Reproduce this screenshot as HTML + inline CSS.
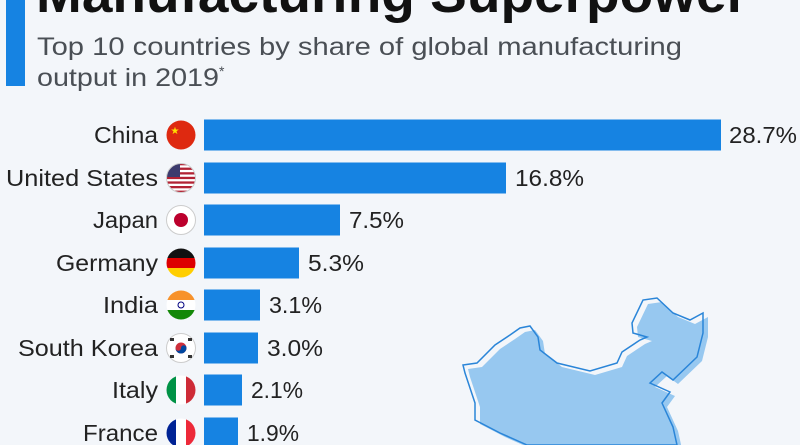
<!DOCTYPE html>
<html><head><style>
html,body{margin:0;padding:0;background:#f3f6fa;}
svg{display:block;font-family:"Liberation Sans",sans-serif;}
</style></head><body>
<svg width="800" height="445" viewBox="0 0 800 445" xmlns="http://www.w3.org/2000/svg">
<rect width="800" height="445" fill="#f3f6fa"/>
<rect x="6" y="0" width="19" height="86" fill="#1683e2"/>
<text x="36" y="12" font-size="54" font-weight="bold" fill="#111" textLength="712" lengthAdjust="spacingAndGlyphs">Manufacturing Superpower</text>
<text x="37" y="55" font-size="25" fill="#4a4f55" textLength="645" lengthAdjust="spacingAndGlyphs">Top 10 countries by share of global manufacturing</text>
<text x="37" y="86" font-size="25" fill="#4a4f55"><tspan textLength="182" lengthAdjust="spacingAndGlyphs">output in 2019</tspan><tspan font-size="14" dy="-10">*</tspan></text>

<g>
<polygon transform="translate(5,4)" fill="#97c8f0" points="463,365 477,363 495,345 510,335 520,328 530,326 538,337 540,350 557,363 590,371 617,363 622,352 640,340 647,337 633,333 632,323 643,300 657,298 673,313 690,320 703,313 703,333 697,357 673,380 662,372 650,383 670,392 662,403 673,427 677,445 527,445 500,433 475,420 475,403 465,373"/>
<polygon fill="none" stroke="#2a85d8" stroke-width="1.5" points="463,365 477,363 495,345 510,335 520,328 530,326 538,337 540,350 557,363 590,371 617,363 622,352 640,340 647,337 633,333 632,323 643,300 657,298 673,313 690,320 703,313 703,333 697,357 673,380 662,372 650,383 670,392 662,403 673,427 677,445 527,445 500,433 475,420 475,403 465,373"/>
</g>

<defs>
<clipPath id="c2"><circle cx="181" cy="178" r="14.5"/></clipPath>
<clipPath id="c5"><circle cx="181" cy="305" r="14.5"/></clipPath>
<clipPath id="c7"><circle cx="181" cy="390" r="14.5"/></clipPath>
<clipPath id="c8"><circle cx="181" cy="433" r="14.5"/></clipPath>
<clipPath id="c4"><circle cx="181" cy="263" r="14.5"/></clipPath>
</defs>

<g font-size="23" fill="#222" lengthAdjust="spacingAndGlyphs">
<text x="94" y="143" textLength="64" lengthAdjust="spacingAndGlyphs">China</text>
<text x="6" y="186" textLength="152" lengthAdjust="spacingAndGlyphs">United States</text>
<text x="93" y="228" textLength="65" lengthAdjust="spacingAndGlyphs">Japan</text>
<text x="56" y="271" textLength="102" lengthAdjust="spacingAndGlyphs">Germany</text>
<text x="103" y="313" textLength="55" lengthAdjust="spacingAndGlyphs">India</text>
<text x="18" y="356" textLength="140" lengthAdjust="spacingAndGlyphs">South Korea</text>
<text x="112" y="398" textLength="46" lengthAdjust="spacingAndGlyphs">Italy</text>
<text x="83" y="441" textLength="75" lengthAdjust="spacingAndGlyphs">France</text>
</g>

<!-- flags -->
<circle cx="181" cy="135" r="14.5" fill="#de2910"/>
<text x="175" y="134" font-size="10" fill="#ffde00" text-anchor="middle">★</text>
<g clip-path="url(#c2)">
<rect x="166" y="163" width="30" height="30" fill="#fff"/>
<g fill="#b22234"><rect x="166" y="163" width="30" height="2.3"/><rect x="166" y="167.6" width="30" height="2.3"/><rect x="166" y="172.2" width="30" height="2.3"/><rect x="166" y="176.8" width="30" height="2.3"/><rect x="166" y="181.4" width="30" height="2.3"/><rect x="166" y="186" width="30" height="2.3"/><rect x="166" y="190.6" width="30" height="2.3"/></g>
<rect x="166" y="163" width="14" height="14" fill="#3c3b6e"/>
</g>
<circle cx="181" cy="178" r="14.5" fill="none" stroke="#ccc" stroke-width="1"/>
<circle cx="181" cy="220" r="14.5" fill="#fff" stroke="#ccc"/>
<circle cx="181" cy="220" r="7" fill="#bc002d"/>
<g clip-path="url(#c4)">
<rect x="166" y="248" width="30" height="10" fill="#111"/>
<rect x="166" y="258" width="30" height="10" fill="#dd0000"/>
<rect x="166" y="268" width="30" height="10" fill="#ffce00"/>
</g>
<g clip-path="url(#c5)">
<rect x="166" y="290" width="30" height="10" fill="#f7922b"/>
<rect x="166" y="300" width="30" height="10" fill="#fff"/>
<rect x="166" y="310" width="30" height="10" fill="#138808"/>
<circle cx="181" cy="305" r="3" fill="none" stroke="#000080"/>
</g>
<circle cx="181" cy="348" r="14.5" fill="#fff" stroke="#ccc"/>
<circle cx="181" cy="348" r="5.5" fill="#cd2e3a"/>
<path d="M175.5 348 a5.5 5.5 0 0 0 11 0 a2.75 2.75 0 0 0 -5.5 0 a2.75 2.75 0 0 1 -5.5 0z" fill="#0047a0"/>
<g fill="#333"><rect x="170" y="338" width="4" height="3"/><rect x="188" y="338" width="4" height="3"/><rect x="170" y="355" width="4" height="3"/><rect x="188" y="355" width="4" height="3"/></g>
<g clip-path="url(#c7)">
<rect x="166" y="375" width="10" height="30" fill="#009246"/>
<rect x="176" y="375" width="10" height="30" fill="#fff"/>
<rect x="186" y="375" width="10" height="30" fill="#ce2b37"/>
</g>
<g clip-path="url(#c8)">
<rect x="166" y="418" width="10" height="30" fill="#002395"/>
<rect x="176" y="418" width="10" height="30" fill="#fff"/>
<rect x="186" y="418" width="10" height="30" fill="#ed2939"/>
</g>

<!-- bars -->
<g fill="#1683e2">
<rect x="204" y="119.5" width="517" height="31"/>
<rect x="204" y="162.5" width="302" height="31"/>
<rect x="204" y="204.5" width="136" height="31"/>
<rect x="204" y="247.5" width="95" height="31"/>
<rect x="204" y="289.5" width="56" height="31"/>
<rect x="204" y="332.5" width="54" height="31"/>
<rect x="204" y="374.5" width="38" height="31"/>
<rect x="204" y="417.5" width="34" height="31"/>
</g>
<g font-size="23" fill="#222">
<text x="729" y="143" textLength="68" lengthAdjust="spacingAndGlyphs">28.7%</text>
<text x="515" y="186" textLength="69" lengthAdjust="spacingAndGlyphs">16.8%</text>
<text x="349" y="228" textLength="55" lengthAdjust="spacingAndGlyphs">7.5%</text>
<text x="308" y="271" textLength="56" lengthAdjust="spacingAndGlyphs">5.3%</text>
<text x="269" y="313" textLength="53" lengthAdjust="spacingAndGlyphs">3.1%</text>
<text x="267" y="356" textLength="56" lengthAdjust="spacingAndGlyphs">3.0%</text>
<text x="251" y="398" textLength="52" lengthAdjust="spacingAndGlyphs">2.1%</text>
<text x="247" y="441" textLength="52" lengthAdjust="spacingAndGlyphs">1.9%</text>
</g>
</svg>
</body></html>
